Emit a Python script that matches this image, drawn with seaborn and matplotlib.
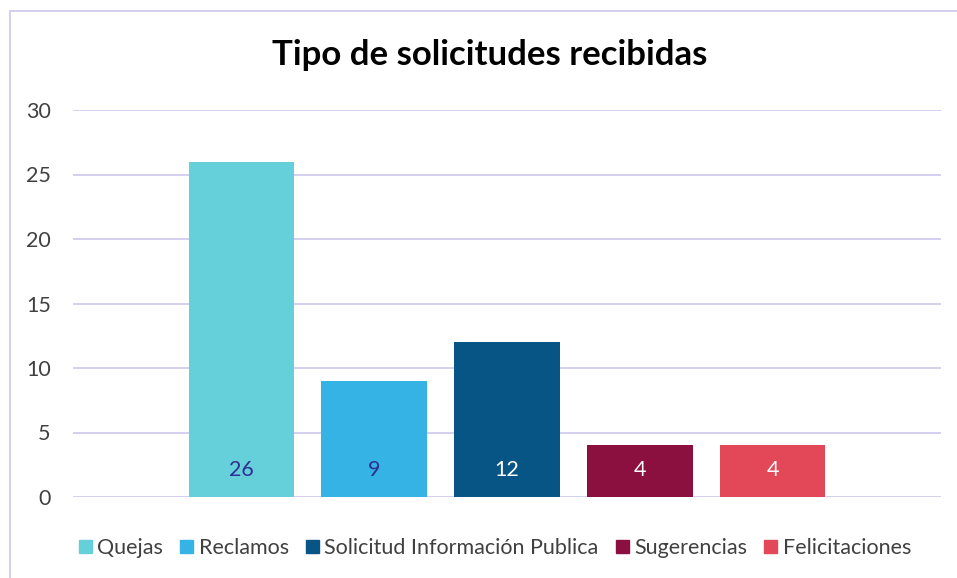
import pandas as pd
import matplotlib.pyplot as plt
import seaborn as sns
from matplotlib.patches import Rectangle

categories = ["Quejas", "Reclamos", "Solicitud Información Publica", "Sugerencias", "Felicitaciones"]
values = [26, 9, 12, 4, 4]
colors = ["#66D0DA", "#35B3E4", "#075584", "#8B0F3F", "#E34858"]
label_colors = ["#2E3192", "#2E3192", "white", "white", "white"]
yticks = [0, 5, 10, 15, 20, 25, 30]

sns.set_theme(style="white")
plt.rcParams["font.family"] = ["Lato", "DejaVu Sans"]

df = pd.DataFrame({"grupo": [""] * len(categories), "tipo": categories, "n": values})

W, H = 957, 578
fig = plt.figure(figsize=(W / 100, H / 100), dpi=100)
ax = fig.add_axes([73 / W, 1 - 497 / H, (941 - 73) / W, (497 - 110) / H])

sns.barplot(data=df, x="grupo", y="n", hue="tipo", hue_order=categories,
            palette=colors, width=0.766, gap=0.21, saturation=1, linewidth=0,
            ax=ax, legend=False)

ax.set_xlim(-0.5, 0.5)
ax.set_ylim(0, 30)
ax.set_yticks(yticks)
ax.set_yticklabels([str(t) for t in yticks], fontsize=15.5, color="#404040")
ax.set_xticks([])
ax.set_xlabel("")
ax.set_ylabel("")
ax.tick_params(axis="y", length=0, pad=16)
for t in yticks:
    ax.axhline(t, color="#D4CEF0", lw=1.4, zorder=0)
for s in ax.spines.values():
    s.set_visible(False)

for bar, v, c in zip(ax.patches, values, label_colors):
    ax.text(bar.get_x() + bar.get_width() / 2, 2.1, str(v), ha="center", va="center",
            fontsize=15.5, color=c)

fig.text(490 / W, 1 - 55 / H, "Tipo de solicitudes recibidas", ha="center", va="center",
         fontsize=25, fontweight="bold", color="black")

handles = [Rectangle((0, 0), 1, 1, color=c) for c in colors]
fig.legend(handles, categories, loc="center", bbox_to_anchor=(495 / W, 1 - 548 / H),
           ncol=5, frameon=False, fontsize=15.5, handlelength=0.6, handleheight=0.6,
           handletextpad=0.25, columnspacing=0.8, labelcolor="#404040")

fig.patches.append(Rectangle((10 / W, -0.1), 1.2, 1 - 11 / H + 0.1, transform=fig.transFigure,
                             fill=False, edgecolor="#D4CEF0", lw=1.4))

fig.savefig("out.png", dpi=100)
